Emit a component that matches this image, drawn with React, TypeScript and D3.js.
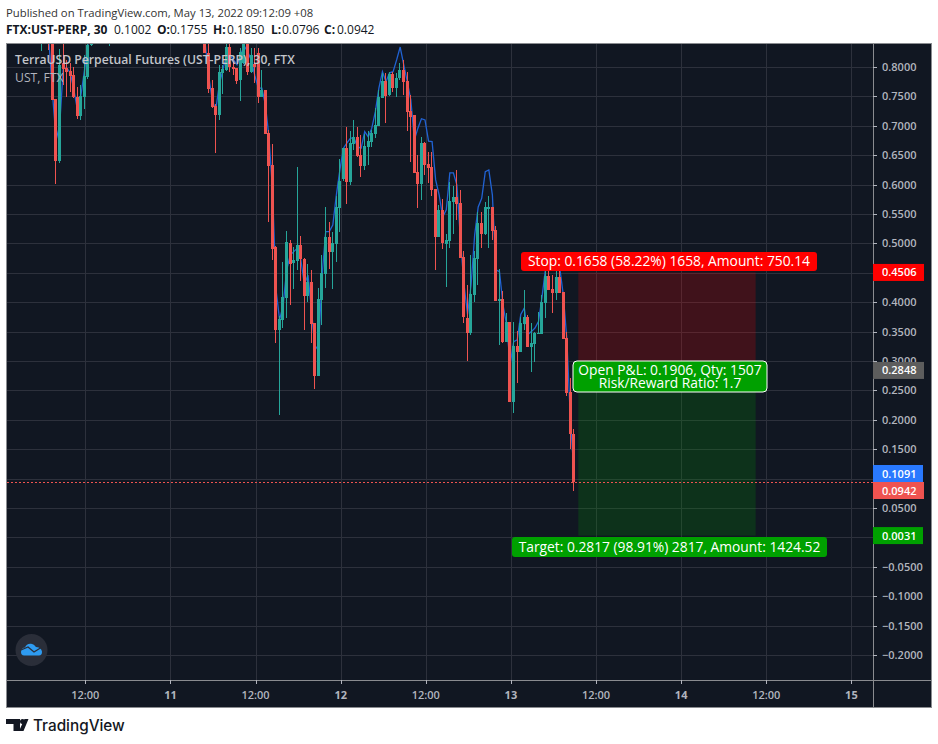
import React from 'react';
import * as d3 from 'd3';

const WIDTH = 938;
const HEIGHT = 744;

// FTX:UST-PERP 30 minute bars as [open, high, low, close]
const earlyStart = Date.UTC(2022, 4, 10, 6, 0);
const earlyBars = [
  [0.87, 0.9, 0.827, 0.89], [0.88, 0.9, 0.86, 0.87], [0.9, 0.92, 0.829, 0.87], [0.9, 0.92, 0.744, 0.744],
  [0.746, 0.746, 0.601, 0.64], [0.64, 0.831, 0.637, 0.804], [0.807, 0.841, 0.77, 0.797], [0.798, 0.812, 0.749, 0.792],
  [0.793, 0.807, 0.758, 0.785], [0.786, 0.8, 0.747, 0.749], [0.749, 0.766, 0.712, 0.717], [0.717, 0.77, 0.71, 0.751],
  [0.749, 0.82, 0.729, 0.785], [0.783, 0.86, 0.78, 0.838], [0.838, 0.88, 0.835, 0.87], [0.87, 0.9, 0.86, 0.88],
  [0.88, 0.91, 0.87, 0.9], [0.9, 0.92, 0.88, 0.89], [0.89, 0.91, 0.87, 0.88], [0.87, 0.9, 0.836, 0.89],
];
const laterStart = Date.UTC(2022, 4, 10, 6, 0) + 46 * 30 * 60000;
const laterBars = [
  [0.88, 0.9, 0.824, 0.824], [0.824, 0.86, 0.756, 0.763], [0.764, 0.778, 0.73, 0.732], [0.734, 0.737, 0.654, 0.719],
  [0.719, 0.803, 0.71, 0.792], [0.79, 0.803, 0.754, 0.797], [0.795, 0.86, 0.793, 0.834], [0.834, 0.85, 0.792, 0.8],
  [0.8, 0.809, 0.786, 0.797], [0.798, 0.798, 0.771, 0.776], [0.778, 0.832, 0.742, 0.826], [0.807, 0.86, 0.805, 0.84],
  [0.84, 0.86, 0.786, 0.792], [0.792, 0.832, 0.79, 0.82], [0.805, 0.832, 0.773, 0.8], [0.824, 0.832, 0.739, 0.749],
  [0.749, 0.795, 0.749, 0.761], [0.761, 0.761, 0.686, 0.686], [0.688, 0.693, 0.537, 0.632], [0.634, 0.669, 0.472, 0.491],
  [0.494, 0.496, 0.331, 0.353], [0.353, 0.377, 0.209, 0.372], [0.37, 0.469, 0.356, 0.409], [0.407, 0.521, 0.373, 0.503],
  [0.501, 0.506, 0.395, 0.465], [0.467, 0.494, 0.423, 0.472], [0.47, 0.63, 0.455, 0.498], [0.498, 0.513, 0.436, 0.474],
  [0.474, 0.475, 0.353, 0.411], [0.411, 0.465, 0.401, 0.435], [0.435, 0.455, 0.331, 0.363], [0.365, 0.365, 0.253, 0.275],
  [0.275, 0.424, 0.275, 0.406], [0.404, 0.48, 0.362, 0.45], [0.448, 0.562, 0.424, 0.511], [0.511, 0.537, 0.457, 0.486],
  [0.486, 0.52, 0.423, 0.501], [0.499, 0.581, 0.469, 0.562], [0.56, 0.644, 0.52, 0.606], [0.61, 0.662, 0.606, 0.662],
  [0.662, 0.698, 0.567, 0.605], [0.605, 0.691, 0.6, 0.671], [0.669, 0.71, 0.659, 0.681], [0.681, 0.698, 0.647, 0.649],
  [0.65, 0.684, 0.613, 0.632], [0.632, 0.686, 0.625, 0.666], [0.664, 0.691, 0.634, 0.674], [0.673, 0.693, 0.664, 0.688],
  [0.686, 0.73, 0.679, 0.702], [0.7, 0.761, 0.7, 0.749], [0.747, 0.79, 0.747, 0.776], [0.776, 0.79, 0.705, 0.751],
  [0.752, 0.792, 0.751, 0.788], [0.788, 0.792, 0.758, 0.764], [0.764, 0.79, 0.749, 0.781], [0.781, 0.807, 0.778, 0.795],
  [0.795, 0.812, 0.752, 0.775], [0.776, 0.792, 0.691, 0.724], [0.725, 0.752, 0.639, 0.715], [0.718, 0.718, 0.62, 0.62],
  [0.622, 0.65, 0.56, 0.601], [0.601, 0.681, 0.574, 0.671], [0.671, 0.673, 0.617, 0.633], [0.635, 0.656, 0.603, 0.628],
  [0.63, 0.656, 0.581, 0.591], [0.593, 0.593, 0.455, 0.511], [0.511, 0.565, 0.511, 0.557], [0.557, 0.576, 0.491, 0.501],
  [0.499, 0.516, 0.426, 0.506], [0.504, 0.605, 0.492, 0.572], [0.571, 0.598, 0.516, 0.579], [0.579, 0.625, 0.54, 0.567],
  [0.569, 0.591, 0.475, 0.475], [0.477, 0.487, 0.365, 0.375], [0.373, 0.429, 0.3, 0.348], [0.348, 0.48, 0.345, 0.414],
  [0.412, 0.487, 0.401, 0.475], [0.474, 0.554, 0.429, 0.535], [0.535, 0.554, 0.492, 0.516], [0.516, 0.571, 0.514, 0.562],
  [0.559, 0.581, 0.492, 0.562], [0.562, 0.562, 0.506, 0.521], [0.523, 0.53, 0.402, 0.402], [0.402, 0.457, 0.328, 0.406],
  [0.406, 0.419, 0.331, 0.333], [0.333, 0.382, 0.333, 0.367], [0.367, 0.367, 0.231, 0.231], [0.231, 0.367, 0.212, 0.326],
  [0.326, 0.351, 0.263, 0.316], [0.316, 0.375, 0.316, 0.365], [0.363, 0.421, 0.353, 0.375], [0.375, 0.378, 0.324, 0.324],
  [0.324, 0.365, 0.282, 0.331], [0.329, 0.35, 0.299, 0.348], [0.346, 0.384, 0.346, 0.348], [0.346, 0.412, 0.346, 0.401],
  [0.399, 0.462, 0.373, 0.445], [0.445, 0.462, 0.421, 0.421], [0.423, 0.446, 0.382, 0.416], [0.416, 0.458, 0.404, 0.443],
  [0.443, 0.458, 0.416, 0.416], [0.418, 0.418, 0.338, 0.338], [0.339, 0.35, 0.241, 0.246], [0.248, 0.271, 0.151, 0.1755],
  [0.1755, 0.185, 0.0796, 0.0942],
];

// the blue indicator line, one value per bar where it is on the chart
const earlyLineOffset = 2;
const earlyLine = [0.841, 0.752, 0.676, 0.701, 0.798, 0.798, 0.79, 0.761, 0.727, 0.752, 0.795, 0.841];
const laterLine = [
  0.841, 0.786, 0.744, 0.727, 0.77, 0.795, 0.82, 0.82, 0.812, 0.804, 0.82, 0.836, 0.826, 0.812, 0.786, 0.764, 0.764,
  0.736, 0.681, 0.591, 0.421, 0.37, 0.395, 0.455, 0.48, 0.486, 0.492, 0.472, 0.43, 0.446, 0.387, 0.319, 0.328, 0.446,
  0.52, 0.52, 0.531, 0.582, 0.625, 0.662, 0.671, 0.679, 0.679, 0.664, 0.662, 0.69, 0.681, 0.696, 0.724, 0.764, 0.792,
  0.775, 0.79, 0.792, 0.812, 0.834, 0.804, 0.775, 0.744, 0.676, 0.696, 0.712, 0.71, 0.674, 0.673, 0.608, 0.582, 0.545,
  0.557, 0.62, 0.62, 0.599, 0.506, 0.43, 0.379, 0.43, 0.514, 0.562, 0.577, 0.622, 0.625, 0.582, 0.455, 0.452, 0.395,
  0.362, 0.294, 0.333, 0.336, 0.379, 0.39, 0.345, 0.35, 0.356, 0.367, 0.409, 0.458, 0.458, 0.455, 0.455, 0.458, 0.412,
  0.336, 0.2, 0.1091,
];

const priceTicks = [0.8, 0.75, 0.7, 0.65, 0.6, 0.55, 0.5, 0.45, 0.4, 0.35, 0.3, 0.25, 0.2, 0.15, 0.1, 0.05, 0, -0.05, -0.1, -0.15, -0.2];
const timeTickHours = [12, 24, 36, 48, 60, 72, 84, 96, 108, 120];
const timeTickLabels = ['12:00', '11', '12:00', '12', '12:00', '13', '12:00', '14', '12:00', '15'];

const entryPrice = 0.2848;
const stopPrice = 0.4506;
const targetPrice = 0.0031;
const lastPrice = 0.0942;
const toolStartHour = 81.5;
const toolEndHour = 106.5;

const UP = '#26a69a';
const DOWN = '#ef5350';
const GRID = '#2d313c';
const AXIS_TEXT = '#b2b5be';
const FONT = '"Open Sans", sans-serif';

const pane = { left: 7, right: 873, top: 44, bottom: 680 };
const MS_HOUR = 3600000;
const day0 = Date.UTC(2022, 4, 10);

const x = d3.scaleUtc().domain([day0, day0 + 120 * MS_HOUR]).range([0.2, 851.4]);
const y = d3.scaleLinear().domain([0.8, -0.2]).range([67, 655]);
const xHour = (h: number) => x(day0 + h * MS_HOUR);

type Bar = number[];

const Candles = ({ bars, start }: { bars: Bar[]; start: number }) => (
  <g shapeRendering="crispEdges">
    {bars.map((d, i) => {
      const [o, h, l, c] = d;
      const cx = Math.floor(x(start + i * 30 * 60000)) - 1;
      const color = c >= o ? UP : DOWN;
      const top = y(Math.max(o, c));
      const bot = y(Math.min(o, c));
      return (
        <g key={i}>
          <rect x={cx} y={y(h)} width={1} height={y(l) - y(h)} fill={color} />
          <rect x={cx - 1} y={top} width={3} height={Math.max(1, bot - top)} fill={color} />
        </g>
      );
    })}
  </g>
);

const PriceTag = ({ top, color, label, w = 51 }: { top: number; color: string; label: string; w?: number }) => (
  <g>
    <rect x={pane.right} y={top} width={w} height={17} fill={color} />
    <text x={882} y={top + 12.5} fill="#fff" fontSize={11} fontWeight={600} fontFamily={FONT}>{label}</text>
  </g>
);

const App: React.FC = () => {
  const earlyPath = d3.line<number>()
    .x((_, i) => x(earlyStart + (i + earlyLineOffset) * 30 * 60000) - 0.8)
    .y(d => y(d))(earlyLine);
  const laterPath = d3.line<number>()
    .x((_, i) => x(laterStart + i * 30 * 60000) - 0.8)
    .y(d => y(d))(laterLine);

  const toolLeft = xHour(toolStartHour);
  const toolRight = xHour(toolEndHour);

  return (
    <svg width={WIDTH} height={HEIGHT} style={{ position: 'absolute', left: 0, top: 0, background: '#fff' }}>
      <defs>
        <clipPath id="pane">
          <rect x={pane.left} y={pane.top} width={pane.right - pane.left} height={pane.bottom - pane.top} />
        </clipPath>
      </defs>

      {/* header lines */}
      <text x={6} y={17} fontSize={11.3} fill="#333" fontFamily={FONT}>Published on TradingView.com, May 13, 2022 09:12:09 +08</text>
      <text y={34} fontSize={12} fill="#131722" fontFamily={FONT}>
        <tspan x={6} fontWeight={700}>FTX:UST-PERP, 30</tspan>
        <tspan x={114}>0.1002</tspan>
        <tspan x={157} fontWeight={700}>O:</tspan><tspan x={170}>0.1755</tspan>
        <tspan x={213} fontWeight={700}>H:</tspan><tspan x={227}>0.1850</tspan>
        <tspan x={271} fontWeight={700}>L:</tspan><tspan x={282}>0.0796</tspan>
        <tspan x={324} fontWeight={700}>C:</tspan><tspan x={337}>0.0942</tspan>
      </text>

      {/* chart frame */}
      <rect x={6.5} y={43.5} width={925} height={664} fill="#111722" stroke="#8a8c90" />

      <g clipPath="url(#pane)">
        {priceTicks.map(t => (
          <line key={t} x1={pane.left} x2={pane.right} y1={Math.round(y(t)) + 0.5} y2={Math.round(y(t)) + 0.5} stroke={GRID} />
        ))}
        {timeTickHours.map(h => (
          <line key={h} x1={Math.round(xHour(h)) + 0.5} x2={Math.round(xHour(h)) + 0.5} y1={pane.top} y2={pane.bottom} stroke={GRID} />
        ))}

        {/* risk and reward zones */}
        <rect x={toolLeft} width={toolRight - toolLeft} y={y(stopPrice)} height={y(entryPrice) - y(stopPrice)} fill="#ff0000" fillOpacity={0.2} />
        <rect x={toolLeft} width={toolRight - toolLeft} y={y(entryPrice)} height={y(targetPrice) - y(entryPrice)} fill="#00a000" fillOpacity={0.2} />

        <path d={earlyPath || ''} fill="none" stroke="#2163d4" strokeWidth={1.3} />
        <path d={laterPath || ''} fill="none" stroke="#2163d4" strokeWidth={1.3} />
        <Candles bars={earlyBars} start={earlyStart} />
        <Candles bars={laterBars} start={laterStart} />

        <line x1={pane.left} x2={pane.right} y1={Math.round(y(lastPrice)) + 0.5} y2={Math.round(y(lastPrice)) + 0.5} stroke={DOWN} strokeDasharray="2 2" />
      </g>

      {/* legend */}
      <text x={15} y={64} fontSize={12.2} fontWeight={600} fill="#c3c5ca" fontFamily={FONT}>TerraUSD Perpetual Futures (UST-PERP), 30, FTX</text>
      <text x={15} y={82} fontSize={12.2} fill="#b2b5be" fontFamily={FONT}>UST, FTX</text>

      {/* axes */}
      <line x1={pane.right + 0.5} x2={pane.right + 0.5} y1={pane.top} y2={707} stroke="#8a8c90" />
      <line x1={pane.left} x2={931} y1={pane.bottom + 0.5} y2={pane.bottom + 0.5} stroke="#8a8c90" />
      {priceTicks.map(t => (
        <g key={t}>
          <line x1={pane.right} x2={pane.right + 4} y1={Math.round(y(t)) + 0.5} y2={Math.round(y(t)) + 0.5} stroke={AXIS_TEXT} />
          <text x={882} y={y(t) + 4} fontSize={11} fontWeight={600} fill={AXIS_TEXT} fontFamily={FONT}>{d3.format('.4f')(t)}</text>
        </g>
      ))}
      {timeTickHours.map((h, i) => (
        <g key={h}>
          <line x1={Math.round(xHour(h)) + 0.5} x2={Math.round(xHour(h)) + 0.5} y1={pane.bottom} y2={pane.bottom + 4} stroke={AXIS_TEXT} />
          <text x={xHour(h)} y={699} fontSize={11} fontWeight={timeTickLabels[i].includes(':') ? 600 : 700} textAnchor="middle" fill={AXIS_TEXT} fontFamily={FONT}>{timeTickLabels[i]}</text>
        </g>
      ))}

      <PriceTag top={y(stopPrice) - 8.5} color="#ff0000" label="0.4506" />
      <PriceTag top={y(entryPrice) - 8} color="#5d5d5d" label="0.2848" />
      <PriceTag top={465} color="#2979ff" label="0.1091" w={50} />
      <PriceTag top={482} color={DOWN} label="0.0942" />
      <PriceTag top={y(targetPrice) - 8.5} color="#00a000" label="0.0031" w={50} />

      {/* position tool labels */}
      <g fontFamily={FONT} fontSize={13.8} fill="#fff" textAnchor="middle">
        <rect x={521} y={252} width={296} height={19} rx={3} fill="#ff0000" />
        <text x={669} y={266}>Stop: 0.1658 (58.22%) 1658, Amount: 750.14</text>
        <rect x={573} y={361} width={194} height={31} rx={4} fill="#00a000" stroke="#fff" />
        <text x={670} y={375}>Open P&amp;L: 0.1906, Qty: 1507</text>
        <text x={670} y={387.5}>Risk/Reward Ratio: 1.7</text>
        <rect x={512} y={537} width={315} height={20} rx={3} fill="#00a000" />
        <text x={669.5} y={551.5}>Target: 0.2817 (98.91%) 2817, Amount: 1424.52</text>
      </g>

      {/* floating logo */}
      <circle cx={31.5} cy={650} r={16} fill="#2a2e39" />
      <path d="M21 652c0-3 2-4.500 4-4.500 1-3 4-4.500 7-3.500 2 .5 3 2 4 3 4 0 6 3 6 5 0 2-1 3.500-3 3.500H24c-2 0-3-1.500-3-3.500z" fill="#2e9bf0" />
      <path d="M21 650l7-3 6 5 8-5" fill="none" stroke="#2a2e39" strokeWidth={1.3} />

      {/* TradingView wordmark */}
      <path d="M6 719h14v12h-6.500v-7H6zM24.500 719h4l-5 12h-4.500z" fill="#131722" />
      <circle cx={22.500} cy={721.500} r={2.500} fill="#131722" />
      <text x={33} y={731} fontSize={15.3} fontWeight={500} fill="#131722" fontFamily="Inter, sans-serif">TradingView</text>
    </svg>
  );
};

export default App;
